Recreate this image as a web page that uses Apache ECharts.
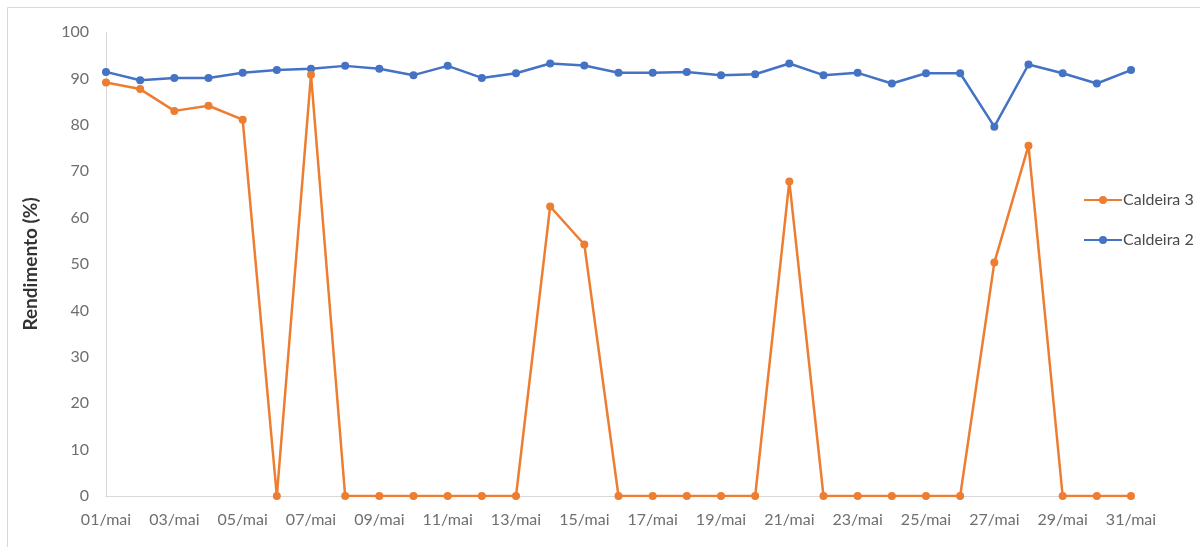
<!DOCTYPE html>
<html>
<head>
<meta charset="utf-8">
<script src="https://cdn.jsdelivr.net/npm/echarts@6/dist/echarts.min.js"></script>
<style>
  html, body { margin: 0; padding: 0; background: #ffffff; }
  #chart { width: 1200px; height: 547px; }
</style>
</head>
<body>
<div id="chart"></div>
<script>
// Days of May
const days = [
  '01/mai','02/mai','03/mai','04/mai','05/mai','06/mai','07/mai','08/mai','09/mai','10/mai',
  '11/mai','12/mai','13/mai','14/mai','15/mai','16/mai','17/mai','18/mai','19/mai','20/mai',
  '21/mai','22/mai','23/mai','24/mai','25/mai','26/mai','27/mai','28/mai','29/mai','30/mai','31/mai'
];

// Boiler efficiency (%)
const caldeira2 = [
  91.4, 89.6, 90.1, 90.1, 91.2, 91.8, 92.1, 92.7, 92.1, 90.7,
  92.7, 90.1, 91.1, 93.2, 92.8, 91.2, 91.2, 91.4, 90.7, 90.9,
  93.2, 90.7, 91.2, 88.9, 91.1, 91.1, 79.6, 93.0, 91.1, 88.9, 91.8
];
const caldeira3 = [
  89.1, 87.7, 83.0, 84.1, 81.1, 0, 90.8, 0, 0, 0,
  0, 0, 0, 62.4, 54.2, 0, 0, 0, 0, 0,
  67.8, 0, 0, 0, 0, 0, 50.3, 75.5, 0, 0, 0
];

const yTicks = { min: 0, max: 100, interval: 10 };

const font = 'Lato, "Open Sans", sans-serif';
const tickGray = '#6f6f6f';
const axisGray = '#d9d9d9';

const chart = echarts.init(document.getElementById('chart'));
chart.setOption({
  animation: false,
  backgroundColor: '#ffffff',
  graphic: [{
    type: 'rect',
    shape: { x: 7.5, y: 7.5, width: 1220, height: 600 },
    style: { fill: 'none', stroke: '#d9d9d9', lineWidth: 1 },
    silent: true
  }],
  grid: { left: 106, right: 69, top: 32, bottom: 51, containLabel: false },
  legend: {
    orient: 'vertical',
    left: 1078,
    top: 187,
    itemWidth: 38,
    itemHeight: 10,
    itemGap: 24,
    data: ['Caldeira 3', 'Caldeira 2'],
    textStyle: { color: '#4a4a4a', fontSize: 16, fontFamily: font, padding: [0, 0, 0, -4] }
  },
  xAxis: {
    type: 'category',
    data: days,
    boundaryGap: false,
    axisLine: { show: true, lineStyle: { color: axisGray, width: 1 } },
    axisTick: { show: false },
    axisLabel: {
      interval: 1,
      color: tickGray,
      fontSize: 16,
      fontFamily: font,
      margin: 16
    },
    splitLine: { show: false }
  },
  yAxis: {
    type: 'value',
    min: yTicks.min,
    max: yTicks.max,
    interval: yTicks.interval,
    name: 'Rendimento (%)',
    nameLocation: 'middle',
    nameGap: 66,
    nameRotate: 90,
    nameTextStyle: { color: '#333333', fontSize: 19, fontWeight: 'bold', fontFamily: font },
    axisLine: { show: true, lineStyle: { color: axisGray, width: 1 } },
    axisTick: { show: false },
    axisLabel: { color: tickGray, fontSize: 16, fontFamily: font, margin: 17 },
    splitLine: { show: false }
  },
  series: [
    {
      name: 'Caldeira 2',
      type: 'line',
      data: caldeira2,
      symbol: 'circle',
      symbolSize: 8,
      lineStyle: { color: '#4472C4', width: 2.5 },
      itemStyle: { color: '#4472C4' },
      z: 2
    },
    {
      name: 'Caldeira 3',
      type: 'line',
      data: caldeira3,
      symbol: 'circle',
      symbolSize: 8,
      lineStyle: { color: '#ED7D31', width: 2.5 },
      itemStyle: { color: '#ED7D31' },
      z: 3
    }
  ]
});
</script>
</body>
</html>
